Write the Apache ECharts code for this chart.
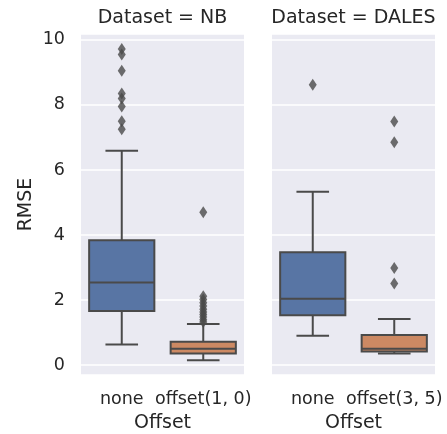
<!DOCTYPE html>
<html>
<head>
<meta charset="utf-8">
<script src="https://cdn.jsdelivr.net/npm/echarts@6/dist/echarts.min.js"></script>
<style>html,body{margin:0;padding:0;background:#fff;}#c{width:447px;height:434px;}</style>
</head>
<body>
<div id="c"></div>
<script>
// ---- data ----
const facets = ['Dataset = NB', 'Dataset = DALES'];
const catsNB = ['none', 'offset(1, 0)'];
const catsDALES = ['none', 'offset(3, 5)'];
// [lowerWhisker, Q1, median, Q3, upperWhisker]
const nbNone = [0.64, 1.67, 2.54, 3.84, 6.59];
const nbOffset = [0.15, 0.36, 0.51, 0.72, 1.27];
const dalesNone = [0.91, 1.54, 2.04, 3.47, 5.33];
const dalesOffset = [0.36, 0.42, 0.51, 0.93, 1.42];
const nbNoneOut = [9.72, 9.55, 9.05, 8.35, 8.2, 7.95, 7.5, 7.25];
const nbOffsetOut = [4.7, 2.12, 2.02, 1.92, 1.82, 1.72, 1.64, 1.56, 1.48, 1.4, 1.33];
const dalesNoneOut = [8.62];
const dalesOffsetOut = [7.49, 6.85, 2.99, 2.51];
const yTicks = [0, 2, 4, 6, 8, 10];

// ---- style ----
const FONT = 'DejaVu Sans';
const TXT = '#262626';
const LINE = '#4a4a4a';
const FILLS = ['#5875a4', '#cc8963'];
const BG = '#eaeaf2';
const TICK_FS = 17.5, LABEL_FS = 19;

function renderBox(params, api) {
  const c = api.value(0);
  const lw = api.value(1), q1 = api.value(2), md = api.value(3), q3 = api.value(4), hw = api.value(5);
  const band = api.size([1, 0])[0];
  const w = band * 0.8, cap = w / 4;
  const pL = api.coord([c, lw]), p1 = api.coord([c, q1]), pM = api.coord([c, md]),
        p3 = api.coord([c, q3]), pH = api.coord([c, hw]);
  const x = pL[0];
  const ls = { stroke: LINE, lineWidth: 2 };
  return {
    type: 'group',
    children: [
      { type: 'line', shape: { x1: x, y1: pL[1], x2: x, y2: p1[1] }, style: ls },
      { type: 'line', shape: { x1: x, y1: p3[1], x2: x, y2: pH[1] }, style: ls },
      { type: 'line', shape: { x1: x - cap, y1: pL[1], x2: x + cap, y2: pL[1] }, style: ls },
      { type: 'line', shape: { x1: x - cap, y1: pH[1], x2: x + cap, y2: pH[1] }, style: ls },
      { type: 'rect', shape: { x: x - w / 2, y: p3[1], width: w, height: p1[1] - p3[1] },
        style: { fill: FILLS[params.dataIndex], stroke: LINE, lineWidth: 2 } },
      { type: 'line', shape: { x1: x - w / 2, y1: pM[1], x2: x + w / 2, y2: pM[1] }, style: ls }
    ]
  };
}

const grids = [
  { left: 81, top: 34, width: 163, height: 341, show: true, backgroundColor: BG, borderWidth: 0, outerBoundsMode: 'none' },
  { left: 272, top: 34, width: 163, height: 341, show: true, backgroundColor: BG, borderWidth: 0, outerBoundsMode: 'none' }
];

function catAxis(gi, cats) {
  return {
    type: 'category', gridIndex: gi, data: cats, position: 'bottom',
    axisLine: { show: false }, axisTick: { show: false }, splitLine: { show: false },
    axisLabel: { color: TXT, fontFamily: FONT, fontSize: TICK_FS, margin: 15, interval: 0, hideOverlap: false },
    name: 'Offset', nameLocation: 'middle', nameGap: 39,
    nameTextStyle: { color: TXT, fontFamily: FONT, fontSize: LABEL_FS }
  };
}
function titleAxis(gi, cats, title) {
  return {
    type: 'category', gridIndex: gi, data: cats, position: 'top',
    axisLine: { show: false }, axisTick: { show: false }, axisLabel: { show: false }, splitLine: { show: false },
    name: title, nameLocation: 'middle', nameGap: 6,
    nameTextStyle: { color: TXT, fontFamily: FONT, fontSize: LABEL_FS }
  };
}
function valAxis(gi, showLabels) {
  return {
    type: 'value', gridIndex: gi, min: -0.3, max: 10.18, splitNumber: 5,
    axisLine: { show: false }, axisTick: { show: false },
    splitLine: { show: true, lineStyle: { color: '#ffffff', width: 1.5 } },
    axisLabel: {
      show: showLabels, color: TXT, fontFamily: FONT, fontSize: TICK_FS, margin: 16,
      showMinLabel: false, showMaxLabel: false,
      formatter: v => (yTicks.indexOf(Math.round(v * 1000) / 1000) >= 0 ? String(v) : '')
    },
    name: showLabels ? 'RMSE' : '', nameLocation: 'middle', nameGap: 45, nameRotate: 90,
    nameTextStyle: { color: TXT, fontFamily: FONT, fontSize: LABEL_FS }
  };
}

function outPts(cat, arr) { return arr.map(v => [cat, v]); }

const option = {
  animation: false,
  backgroundColor: '#ffffff',
  grid: grids,
  xAxis: [catAxis(0, catsNB), catAxis(1, catsDALES), titleAxis(0, catsNB, facets[0]), titleAxis(1, catsDALES, facets[1])],
  yAxis: [valAxis(0, true), valAxis(1, false)],
  series: [
    { type: 'custom', xAxisIndex: 0, yAxisIndex: 0, renderItem: renderBox,
      data: [[0].concat(nbNone), [1].concat(nbOffset)] },
    { type: 'custom', xAxisIndex: 1, yAxisIndex: 1, renderItem: renderBox,
      data: [[0].concat(dalesNone), [1].concat(dalesOffset)] },
    { type: 'scatter', xAxisIndex: 0, yAxisIndex: 0, symbol: 'diamond', symbolSize: [8, 12],
      itemStyle: { color: LINE }, data: outPts(0, nbNoneOut).concat(outPts(1, nbOffsetOut)) },
    { type: 'scatter', xAxisIndex: 1, yAxisIndex: 1, symbol: 'diamond', symbolSize: [8, 12],
      itemStyle: { color: LINE }, data: outPts(0, dalesNoneOut).concat(outPts(1, dalesOffsetOut)) }
  ]
};

const chart = echarts.init(document.getElementById('c'), null, { renderer: 'canvas' });
chart.setOption(option);
</script>
</body>
</html>
